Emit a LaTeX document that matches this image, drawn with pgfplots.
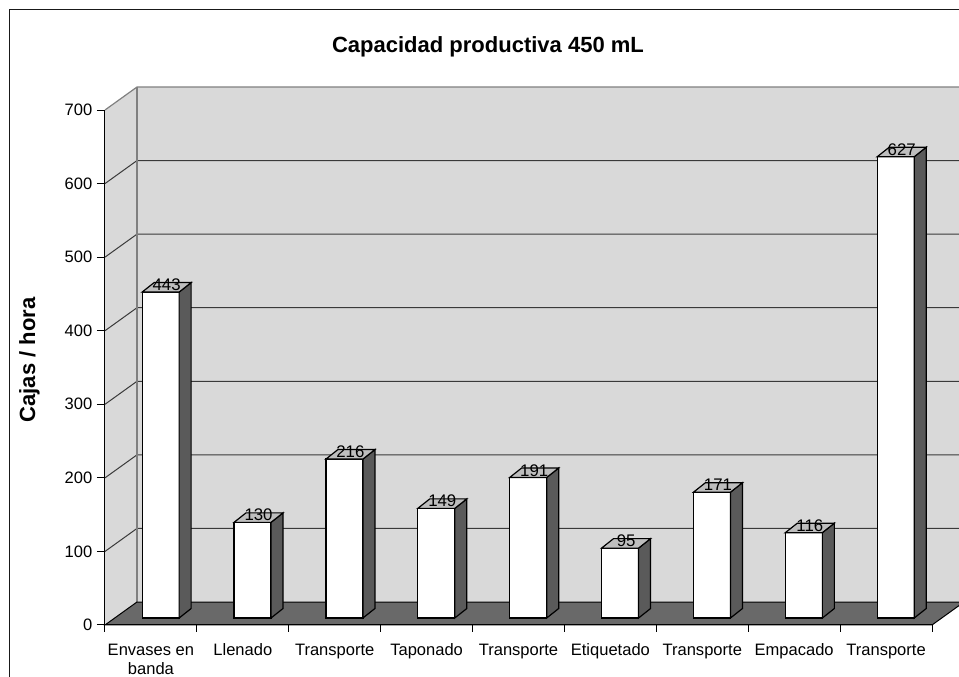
\documentclass[border=0pt]{standalone}
\usepackage{fontspec}
\setmainfont{Liberation Sans}
\usepackage{pgfplots}
\usepackage{pgfplotstable}
\pgfplotsset{compat=1.18}

\definecolor{wallc}{HTML}{D9D9D9}
\definecolor{wallline}{HTML}{808080}
\definecolor{gridc}{HTML}{3A3A3A}
\definecolor{floorc}{HTML}{696969}
\definecolor{barside}{HTML}{5A5A5A}
\definecolor{bartop}{HTML}{BEBEBE}

\pgfplotstableread{
pos val
0 443
1 130
2 216
3 149
4 191
5 95
6 171
7 116
8 627
}\capacidad

% side and top faces of a 3D column; \barv is the column value,
% 0.551786pt is the length of one unit on the y axis
\pgfdeclareplotmark{barbox}{%
  \pgfmathsetmacro\hh{\barv*0.551786}%
  \pgfsetlinewidth{0.9pt}%
  \pgfsetstrokecolor{black}%
  \pgfpathmoveto{\pgfpoint{21.15pt}{5.25pt-\hh pt}}%
  \pgfpathlineto{\pgfpoint{21.15pt}{5.25pt}}%
  \pgfpathlineto{\pgfpoint{30.15pt}{12.375pt}}%
  \pgfpathlineto{\pgfpoint{30.15pt}{12.375pt-\hh pt}}%
  \pgfpathclose
  \pgfsetfillcolor{barside}%
  \pgfusepath{fill,stroke}%
  \pgfpathmoveto{\pgfpoint{-6.6pt}{5.25pt}}%
  \pgfpathlineto{\pgfpoint{21.15pt}{5.25pt}}%
  \pgfpathlineto{\pgfpoint{30.15pt}{12.375pt}}%
  \pgfpathlineto{\pgfpoint{2.4pt}{12.375pt}}%
  \pgfpathclose
  \pgfsetfillcolor{bartop}%
  \pgfusepath{fill,stroke}%
}

\begin{document}
\begin{tikzpicture}[x=0.75pt,y=0.75pt]
\useasboundingbox (0,0) rectangle (959,677);
\clip (0,0) rectangle (959,677);
% chart frame
\draw[line width=1.1pt, black!90] (9.5,-20) -- (9.5,667.5) -- (990,667.5);
\begin{axis}[
  at={(78.75pt,39pt)}, anchor=south west,
  scale only axis, width=620.25pt, height=386.25pt,
  xmin=-0.5, xmax=8.5, ymin=0, ymax=700,
  clip=false, axis on top,
  axis lines*=left,
  axis line style={black, line width=0.75pt},
  tick align=outside,
  /pgf/number format/assume math mode=true,
  ytick={0,100,...,700},
  major tick length=6pt,
  minor tick length=5.25pt,
  xtick={0,...,8},
  xticklabels={{\strut Envases en\\banda},\strut Llenado,\strut Transporte,\strut Taponado,\strut Transporte,\strut Etiquetado,\strut Transporte,\strut Empacado,\strut Transporte},
  major x tick style={draw=none},
  minor xtick={-0.5,0.5,...,8.5},
  minor x tick style={black, line width=0.75pt},
  y tick style={black, line width=0.75pt},
  tick label style={font=\fontsize{12.4pt}{14.25pt}\selectfont, black},
  xticklabel style={align=center, anchor=north, yshift=-3.2pt},
  title={Capacidad productiva 450 mL},
  every axis title/.style={at={(axis description cs:0.4631,1.1117)}, anchor=base,
    font=\bfseries\fontsize{16.5pt}{20pt}\selectfont},
  ylabel={Cajas / hora},
  every axis y label/.style={at={(axis description cs:-0.0846,0.5146)}, rotate=90, anchor=base,
    font=\bfseries\fontsize{16.5pt}{20pt}\selectfont},
]
% back wall and side wall
\fill[wallc] (axis cs:-0.1518,31.26) rectangle (axis cs:8.8482,731.26);
\fill[wallc] (axis cs:-0.5,0) -- (axis cs:-0.5,700) -- (axis cs:-0.1518,731.26) -- (axis cs:-0.1518,31.26) -- cycle;
% gridlines on the walls
\draw[gridc, line width=0.75pt] (axis cs:-0.5,100) -- (axis cs:-0.1518,131.26) -- (axis cs:8.8482,131.26);
\draw[gridc, line width=0.75pt] (axis cs:-0.5,200) -- (axis cs:-0.1518,231.26) -- (axis cs:8.8482,231.26);
\draw[gridc, line width=0.75pt] (axis cs:-0.5,300) -- (axis cs:-0.1518,331.26) -- (axis cs:8.8482,331.26);
\draw[gridc, line width=0.75pt] (axis cs:-0.5,400) -- (axis cs:-0.1518,431.26) -- (axis cs:8.8482,431.26);
\draw[gridc, line width=0.75pt] (axis cs:-0.5,500) -- (axis cs:-0.1518,531.26) -- (axis cs:8.8482,531.26);
\draw[gridc, line width=0.75pt] (axis cs:-0.5,600) -- (axis cs:-0.1518,631.26) -- (axis cs:8.8482,631.26);
% wall outlines
\draw[wallline, line width=0.9pt] (axis cs:-0.5,700) -- (axis cs:-0.1518,731.26) -- (axis cs:8.8482,731.26);
\draw[wallline, line width=0.9pt] (axis cs:-0.1518,31.26) -- (axis cs:-0.1518,731.26);
% floor
\filldraw[fill=floorc, draw=black, line width=0.75pt] (axis cs:-0.5,0) -- (axis cs:8.5,0) -- (axis cs:8.8482,31.26) -- (axis cs:-0.1518,31.26) -- cycle;
% column sides and tops
\addplot[scatter, only marks, mark=barbox,
  visualization depends on={rawy \as \barv}]
  table[x=pos, y=val] {\capacidad};
% column fronts with their values
\addplot[ybar, bar width=27.75pt, bar shift=0pt, fill=white, draw=black, line width=0.9pt,
  xshift=7.275pt, yshift=5.25pt,
  nodes near coords,
  every node near coord/.append style={anchor=base, xshift=4.5pt, yshift=1.1pt,
    font=\fontsize{12.6pt}{15pt}\selectfont, black}]
  table[x=pos, y=val] {\capacidad};
\end{axis}
\end{tikzpicture}
\end{document}
